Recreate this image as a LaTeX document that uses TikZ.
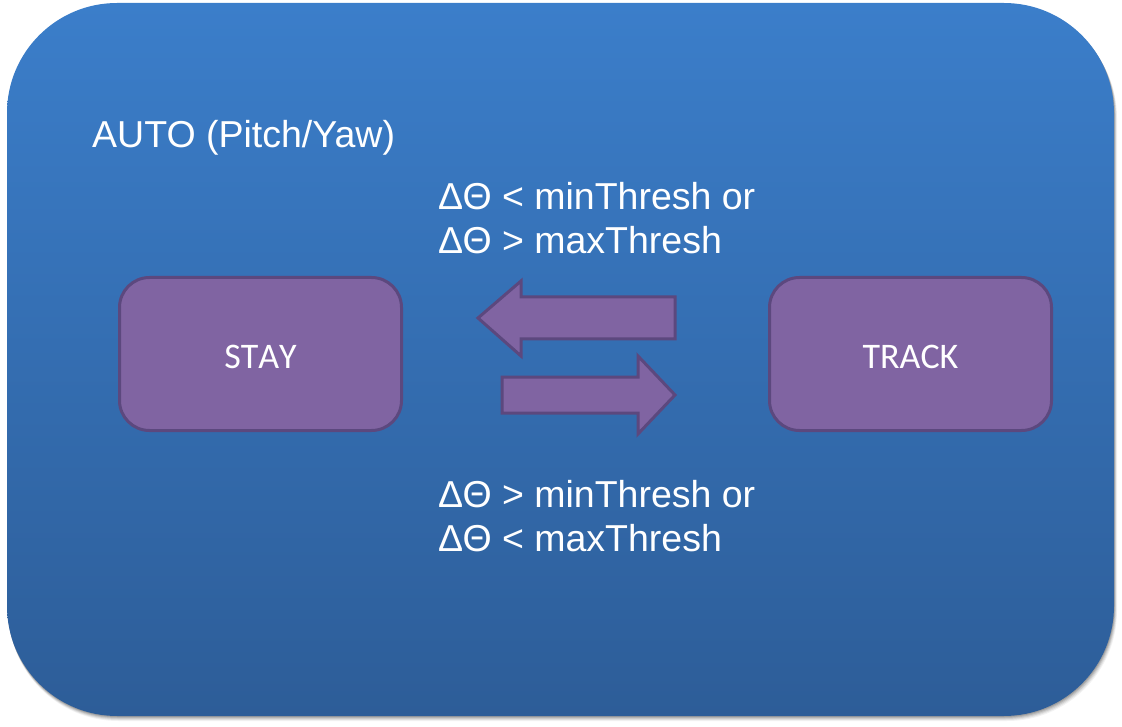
\documentclass[tikz,border=0pt]{standalone}
\usepackage{fontspec}
\setmainfont{Liberation Sans}
\newfontfamily\calib[Kerning=Off]{Carlito}
\definecolor{bgtop}{RGB}{59,126,202}
\definecolor{bgbot}{RGB}{45,93,152}
\definecolor{boxfill}{RGB}{128,100,162}
\definecolor{boxline}{RGB}{92,72,126}
\begin{document}
\begin{tikzpicture}[x=1pt,y=-1pt,
  statebox/.style={draw=boxline, line width=3pt, fill=boxfill, rounded corners=30pt,
    minimum width=282pt, minimum height=153pt, text=white, text height=29pt, text depth=0pt,
    font=\calib\fontsize{36}{40}\selectfont},
  blockarrow/.style={draw=boxline, line width=3pt, fill=boxfill, line join=miter},
  lbl/.style={text=white, font=\fontsize{37.5}{44}\selectfont, inner sep=0pt, align=left}]
\useasboundingbox (0,0) rectangle (1122,727);
% shadow
\foreach \o/\a in {5/0.05,4/0.07,3/0.09,2/0.11,1/0.13}{
  \fill[black, opacity=\a, rounded corners=110pt] (7+\o*0.3,3+\o) rectangle (1114+\o*0.6,716+\o);
}
\shade[top color=bgtop, bottom color=bgbot, rounded corners=110pt] (7,3) rectangle (1114,716);
\node[statebox] (stay) at (260.5,354) {STAY};
\node[statebox] (track) at (910.5,354) {TRACK};
% block arrows
\draw[blockarrow] (478,318) -- (521,281) -- (521,297) -- (675,297) -- (675,339) -- (521,339) -- (521,356) -- cycle;
\draw[blockarrow] (675,395) -- (638,356) -- (638,377) -- (502,377) -- (502,413) -- (638,413) -- (638,434) -- cycle;
\node[lbl, anchor=west] (auto) at (92,138) {AUTO (Pitch/Yaw)};
\node[lbl, anchor=north west] (top) at (438,182) {ΔΘ < minThresh or\\ΔΘ > maxThresh};
\node[lbl, anchor=north west] (bot) at (438,480) {ΔΘ > minThresh or\\ΔΘ < maxThresh};
\end{tikzpicture}
\end{document}
